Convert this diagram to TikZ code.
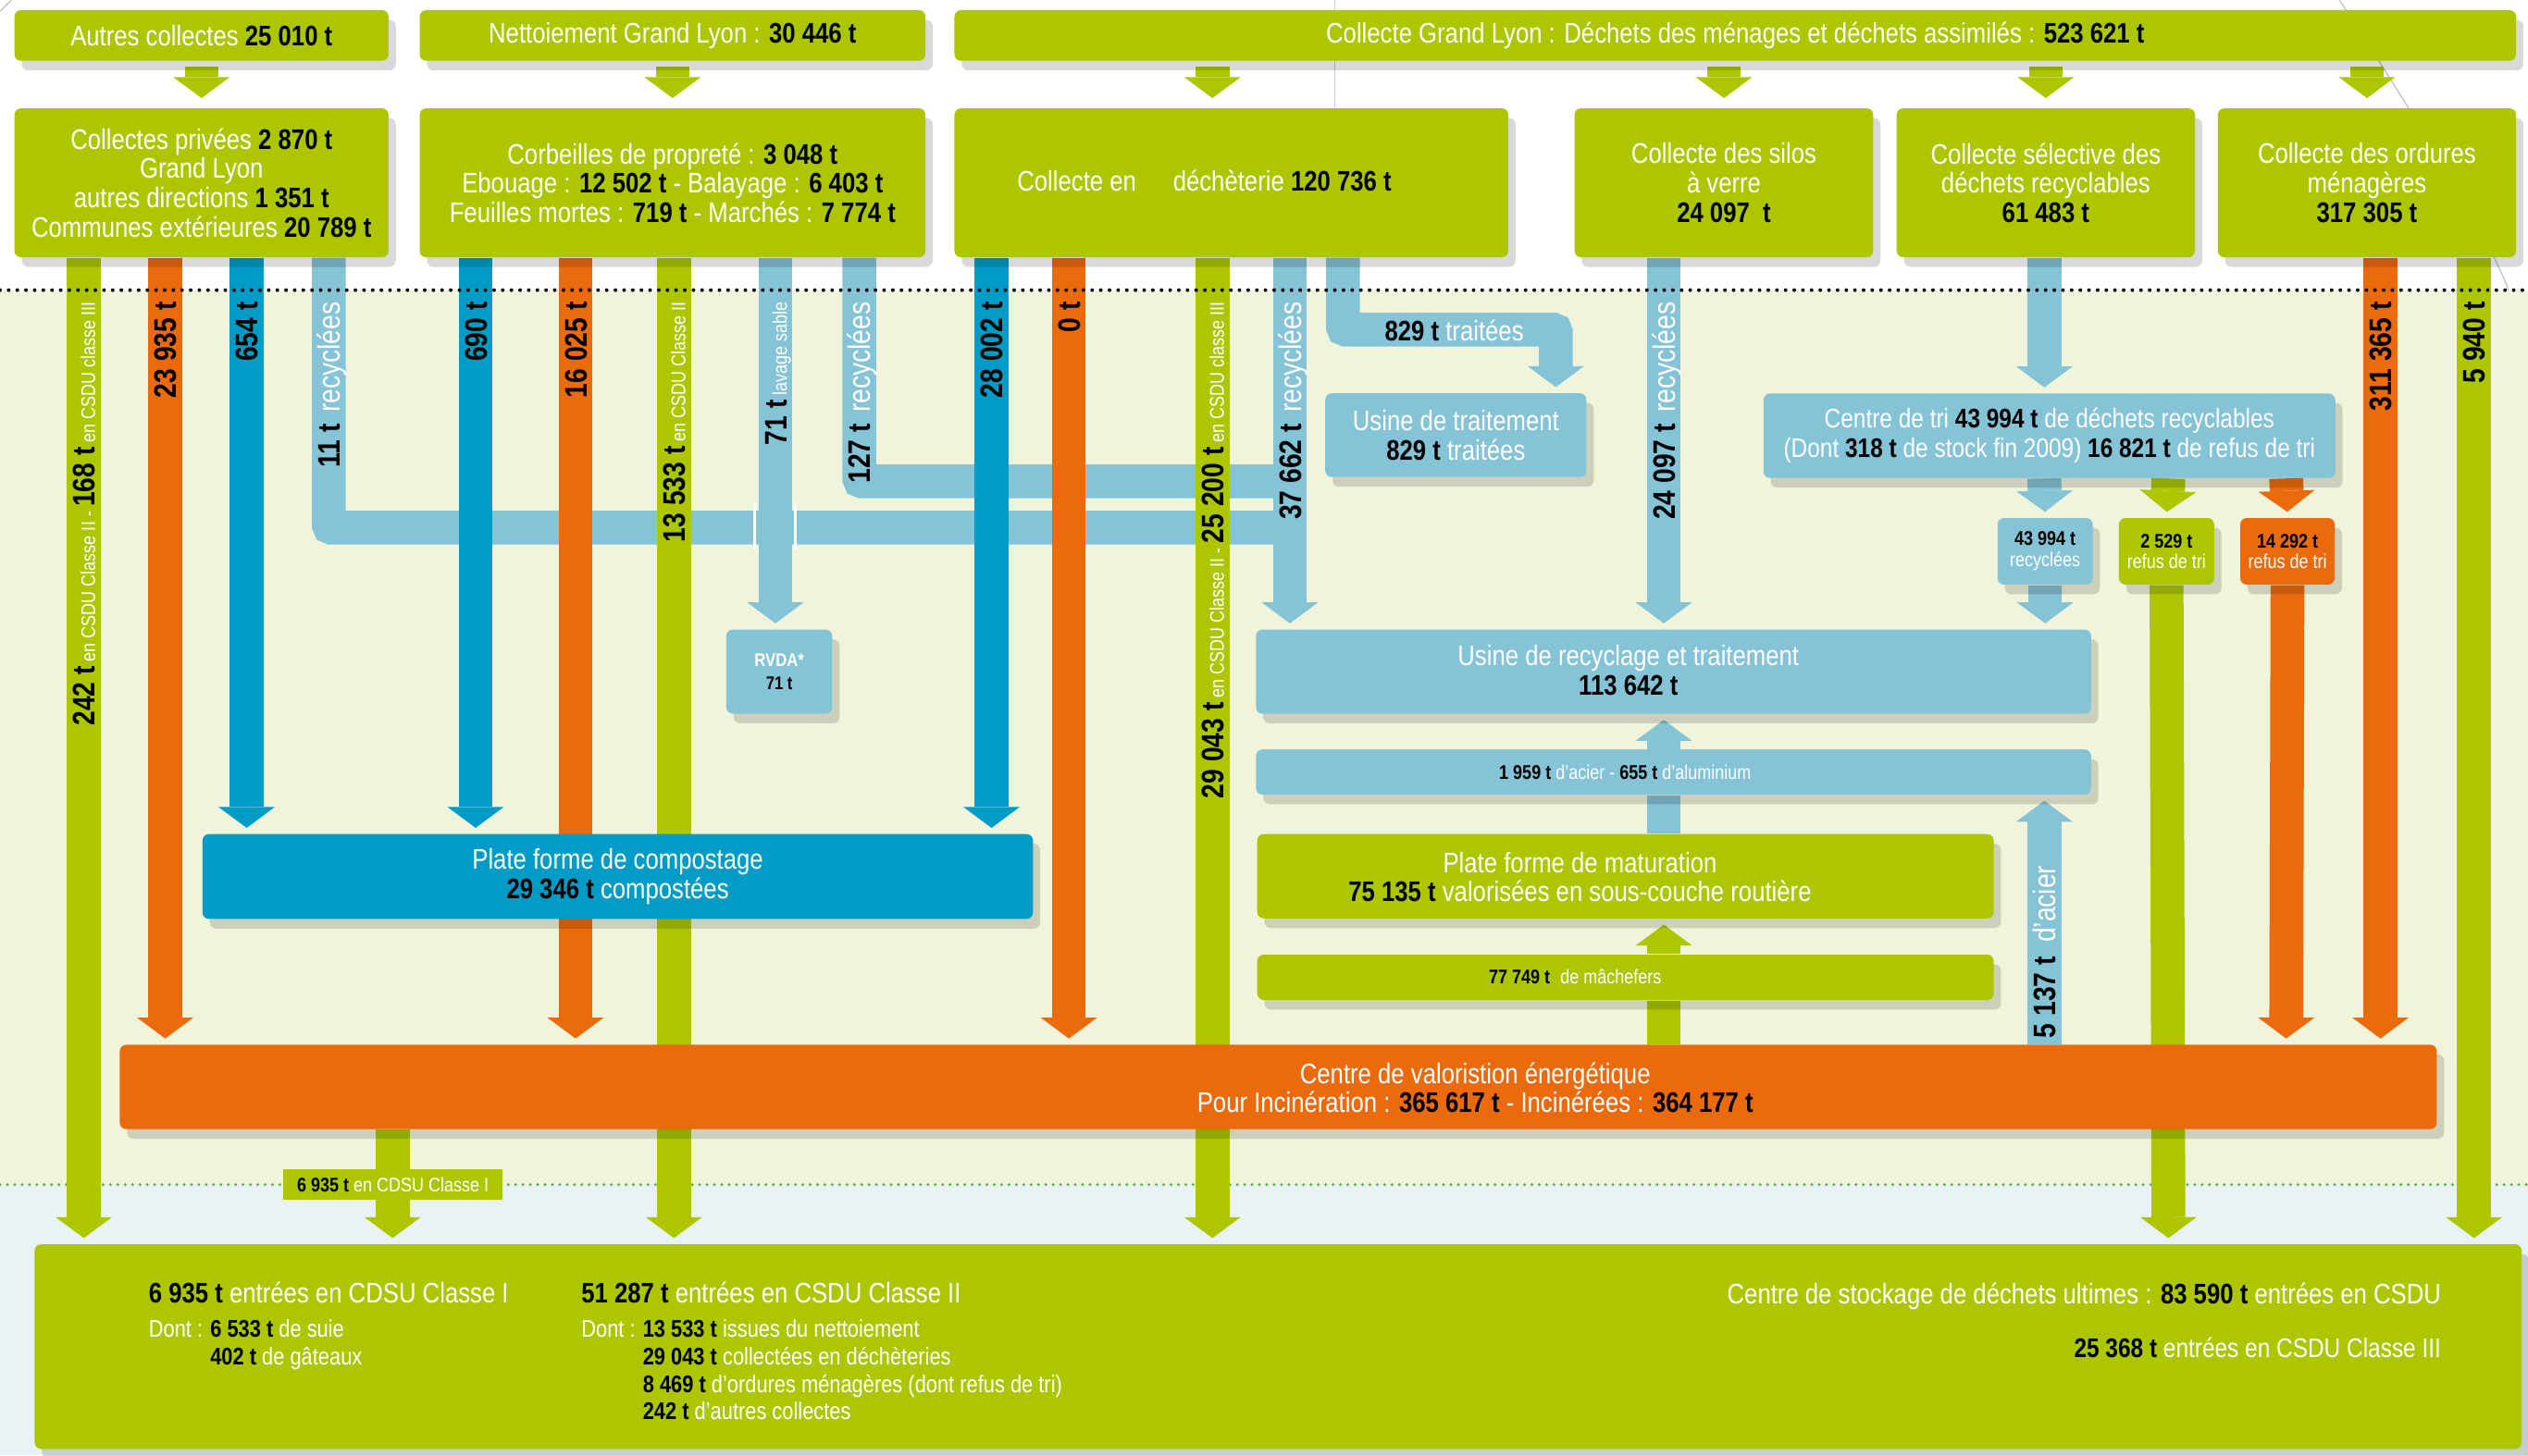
\documentclass[tikz,border=0pt]{standalone}
\usepackage{fontspec}
\setmainfont{Liberation Sans}[FakeStretch=0.84]
\usetikzlibrary{arrows.meta,shadows}

\definecolor{vert}{RGB}{173,198,0}
\definecolor{orangefonce}{RGB}{235,106,13}
\definecolor{bleu}{RGB}{0,156,197}
\definecolor{bleuclair}{RGB}{133,195,214}
\definecolor{creme}{RGB}{240,244,218}
\definecolor{ciel}{RGB}{233,242,244}
\definecolor{pointvert}{RGB}{95,176,80}

\pgfdeclarelayer{fond}
\pgfdeclarelayer{devant}
\pgfsetlayers{fond,main,devant}

\newcommand{\tonnes}[1]{{\bfseries\color{black}#1}}
\newcommand{\vtonnes}[1]{{\fontsize{11}{12}\selectfont\bfseries\color{black}#1}}
\newcommand{\vmot}[1]{{\fontsize{11}{12}\selectfont#1}}

\begin{document}
\begin{tikzpicture}[x=0.02cm, y=-0.02cm,
    taille/.style 2 args={minimum width=#1*0.02cm, minimum height=#2*0.02cm},
    cadre/.style={rounded corners=0.08cm, inner sep=0pt, align=center, text=white,
        font=\fontsize{10}{10.3}\selectfont,
        drop shadow={shadow xshift=0.09cm, shadow yshift=-0.12cm, fill=black, opacity=0.15}},
    cadrevert/.style={cadre, fill=vert},
    cadrebleu/.style={cadre, fill=bleuclair},
    cadrecompost/.style={cadre, fill=bleu},
    cadreorange/.style={cadre, fill=orangefonce},
    petit/.style={font=\fontsize{7}{7.4}\selectfont},
    texte/.style={text=white, align=center, inner sep=0pt, font=\fontsize{10}{10.3}\selectfont},
    barre/.style={line width=0.42cm},
    flux/.style={barre, -{Triangle[width=0.7cm, length=0.26cm, line width=0pt]}, shorten >=0.07cm},
    vlab/.style={rotate=90, anchor=east, inner sep=0pt, text=white, text height=8pt, text depth=0pt,
        font=\fontsize{7}{8}\selectfont},
    bas/.style={text=white, inner sep=0pt, anchor=base west, font=\fontsize{8.5}{9}\selectfont},
    basgrand/.style={bas, font=\fontsize{10}{11}\selectfont}
  ]
  \useasboundingbox (0,0) rectangle (1568,903);

  % Fond
  \begin{pgfonlayer}{fond}
    \fill[white] (0,0) rectangle (1568,180);
    \fill[creme] (0,180) rectangle (1568,735);
    \fill[ciel] (0,735) rectangle (1568,903);
    \draw[black!20, line width=0.4pt] (828,0) -- (828,180);
    \draw[black!25, line width=0.4pt] (1451,0) .. controls (1500,75) and (1540,140) .. (1556,180);
    \draw[black!25, line width=0.4pt] (0,7) -- (7,0);
    \draw[pointvert, line width=1.1pt, line cap=round, dash pattern=on 0pt off 2.6pt] (0,735) -- (1568,735);
  \end{pgfonlayer}

  % Cadres
  \begin{pgfonlayer}{devant}
    \draw[line width=1.3pt, line cap=round, dash pattern=on 0pt off 3.06pt] (0,180) -- (1568,180);

    % Collectes
    \node[cadrevert, taille={232}{31.4}] (autres) at (125,22) {Autres collectes \tonnes{25 010 t}};
    \node[cadrevert, taille={313.7}{31.4}] (nettoiement) at (417.15,22) {Nettoiement Grand Lyon : \tonnes{30 446 t}};
    \node[cadrevert, taille={968.6}{31.4}] (grand) at (1076.3,22) {Collecte Grand Lyon : Déchets des ménages et déchets assimilés : \tonnes{523 621 t}};

    \node[cadrevert, taille={232}{92.4}] (privees) at (125,113.4) {Collectes privées \tonnes{2 870 t}\\Grand Lyon\\autres directions \tonnes{1 351 t}\\Communes extérieures \tonnes{20 789 t}};
    \node[cadrevert, taille={313.7}{92.4}] (corbeilles) at (417.15,113.4) {Corbeilles de propreté : \tonnes{3 048 t}\\Ebouage : \tonnes{12 502 t} - Balayage : \tonnes{6 403 t}\\Feuilles mortes : \tonnes{719 t} - Marchés : \tonnes{7 774 t}};
    \node[cadrevert, taille={343.5}{92.4}] (decheterie) at (763.75,113.4) {};
    \node[texte] (decheterie-t) at (747,112) {Collecte en\hspace{13pt}déchèterie \tonnes{120 736 t}};
    \node[cadrevert, taille={185.3}{92.4}] (silos) at (1069.25,113.4) {Collecte des silos\\à verre\\\tonnes{24 097~~t}};
    \node[cadrevert, taille={185}{92.4}] (selective) at (1268.9,113.4) {Collecte sélective des\\déchets recyclables\\\tonnes{61 483 t}};
    \node[cadrevert, taille={185}{92.4}] (ordures) at (1468.1,113.4) {Collecte des ordures\\ménagères\\\tonnes{317 305 t}};

    % Traitement et tri
    \node[cadrebleu, taille={162}{52}] (traitement) at (903,270) {Usine de traitement\\\tonnes{829 t} traitées};
    \node[cadrebleu, font=\fontsize{9.5}{10.3}\selectfont, taille={354.7}{52.3}] (tri) at (1271.15,270.35) {Centre de tri \tonnes{43 994 t} de déchets recyclables\\(Dont \tonnes{318 t} de stock fin 2009) \tonnes{16 821 t} de refus de tri};
    \node[cadrebleu, petit, taille={59}{41.3}] (rec43) at (1268.5,342.05) {\tonnes{43 994 t}\\recyclées};
    \node[cadrevert, petit, taille={59}{41.3}] (ref2529) at (1343.8,342.05) {\tonnes{2 529 t}\\refus de tri};
    \node[cadreorange, petit, taille={58.6}{41.3}] (ref14292) at (1418.8,342.05) {\tonnes{14 292 t}\\refus de tri};
    \node[cadrebleu, font=\fontsize{6.5}{8}\selectfont, taille={65.7}{52.2}] (rvda) at (483.35,416.7) {\textbf{RVDA*}\\\tonnes{71 t}};

    \node[cadrebleu, taille={518}{52.2}] (recyclage) at (1038,416.7) {};
    \node[texte] (recyclage-t) at (1010,416) {Usine de recyclage et traitement\\\tonnes{113 642 t}};
    \node[cadrebleu, taille={518}{28}] (acier) at (1038,479) {};
    \node[texte, font=\fontsize{7}{8}\selectfont] (acier-t) at (1008,479) {\tonnes{1 959 t} d’acier - \tonnes{655 t} d’aluminium};

    \node[cadrecompost, taille={515.1}{52.6}] (compost) at (383.15,543.8) {Plate forme de compostage\\\tonnes{29 346 t} compostées};
    \node[cadrevert, taille={456.8}{52.3}] (maturation) at (1008.2,543.65) {};
    \node[texte] (maturation-t) at (980,544) {Plate forme de maturation\\\tonnes{75 135 t} valorisées en sous-couche routière};
    \node[cadrevert, taille={456.8}{28.1}] (machefers) at (1008.2,606.35) {};
    \node[texte, font=\fontsize{7}{8}\selectfont] (machefers-t) at (977,606) {\tonnes{77 749 t}\hspace{2pt} de mâchefers};

    % Valorisation energetique
    \node[cadreorange, taille={1437.1}{52.4}] (cve) at (792.85,674.4) {};
    \node[texte] (cve-t) at (915,675) {Centre de valoristion énergétique\\Pour Incinération : \tonnes{365 617 t} - Incinérées : \tonnes{364 177 t}};
    \node[fill=vert, inner sep=0pt, text=white, font=\fontsize{7}{8}\selectfont, taille={135.8}{18.8}] (cdsu1) at (243.7,734.9) {\tonnes{6 935 t} en CDSU Classe I};

    % Stockage
    \node[cadrevert, taille={1542.5}{127}] (stock) at (792.75,835.5) {};
    \node[basgrand] (st1) at (92,808.3) {\tonnes{6 935 t} entrées en CDSU Classe I};
    \node[bas] (st2) at (92,829.9) {Dont : \tonnes{6 533 t} de suie};
    \node[bas] (st3) at (92,847.1) {\phantom{Dont : }\tonnes{402 t} de gâteaux};
    \node[basgrand] (sm1) at (360.3,808.3) {\tonnes{51 287 t} entrées en CSDU Classe II};
    \node[bas] (sm2) at (360.3,829.9) {Dont : \tonnes{13 533 t} issues du nettoiement};
    \node[bas] (sm3) at (360.3,847.1) {\phantom{Dont : }\tonnes{29 043 t} collectées en déchèteries};
    \node[bas] (sm4) at (360.3,864.3) {\phantom{Dont : }\tonnes{8 469 t} d’ordures ménagères (dont refus de tri)};
    \node[bas] (sm5) at (360.3,880.6) {\phantom{Dont : }\tonnes{242 t} d’autres collectes};
    \node[basgrand, anchor=base east] (sr1) at (1514.4,808.9) {Centre de stockage de déchets ultimes : \tonnes{83 590 t} entrées en CSDU};
    \node[basgrand, anchor=base east, font=\fontsize{9.5}{10}\selectfont] (sr2) at (1514.4,842) {\tonnes{25 368 t} entrées en CSDU Classe III};
  \end{pgfonlayer}

  % Colonnes
  \coordinate (p1) at (52,0);    \coordinate (p2) at (102.5,0);
  \coordinate (p3) at (153,0);   \coordinate (p4) at (204,0);
  \coordinate (c1) at (295,0);   \coordinate (c2) at (357,0);
  \coordinate (c3) at (418,0);   \coordinate (c4) at (481,0);
  \coordinate (c5) at (533,0);
  \coordinate (d1) at (615,0);   \coordinate (d2) at (663,0);
  \coordinate (d3) at (752,0);   \coordinate (d4) at (800,0);
  \coordinate (d5) at (833,0);
  \coordinate (s1) at (1032,0);  \coordinate (t1) at (1268,0);
  \coordinate (t2) at (1345,0);  \coordinate (t3) at (1418,0);
  \coordinate (o1) at (1476.5,0); \coordinate (o2) at (1534.5,0);
  \coordinate (e1) at (243.5,0);
  \coordinate (lowpipe) at (800,327.4);
  \coordinate (highpipe) at (800,298.7);
  \coordinate (bend829) at (965,204.5);

  % Collectes vers sous-collectes
  \draw[vert, flux, shorten <=0.06cm, shorten >=0.12cm] (autres.south) -- (privees.north);
  \draw[vert, flux, shorten <=0.06cm, shorten >=0.12cm] (nettoiement.south) -- (corbeilles.north);
  \draw[vert, flux, shorten <=0.06cm, shorten >=0.12cm] (grand.south -| d3) -- (decheterie.north -| d3);
  \draw[vert, flux, shorten <=0.06cm, shorten >=0.12cm] (grand.south -| silos) -- (silos.north);
  \draw[vert, flux, shorten <=0.06cm, shorten >=0.12cm] (grand.south -| selective) -- (selective.north);
  \draw[vert, flux, shorten <=0.06cm, shorten >=0.12cm] (grand.south -| ordures) -- (ordures.north);

  % Recyclage (bleu clair)
  \draw[bleuclair, barre, rounded corners=1pt] (privees.south -| p4) |- (lowpipe);
  \draw[bleuclair, barre, rounded corners=1pt] (corbeilles.south -| c5) |- (highpipe);
  \draw[bleuclair, flux, rounded corners=1pt] (decheterie.south -| d5) |- (bend829) -- (traitement.north -| bend829);
  \draw[bleuclair, flux] (corbeilles.south -| c4) -- (rvda.north -| c4);
  \draw[white, line width=0.03cm] (468,312.8) -- (468,341) (493.4,312.8) -- (493.4,341);
  \draw[bleuclair, flux] (decheterie.south -| d4) -- (recyclage.north -| d4);
  \draw[bleuclair, flux] (silos.south -| s1) -- (recyclage.north -| s1);
  \draw[bleuclair, flux] (selective.south -| t1) -- (tri.north -| t1);
  \draw[bleuclair, flux] (tri.south -| t1) -- (rec43.north);
  \draw[vert, flux] (tri.south -| t2) -- (ref2529.north);
  \draw[orangefonce, flux] (tri.south -| t3) -- (ref14292.north);
  \draw[bleuclair, flux] (rec43.south) -- (recyclage.north -| rec43);
  \draw[bleuclair, barre] (maturation.north -| s1) -- (acier.south -| s1);
  \draw[bleuclair, flux] (acier.north -| s1) -- (recyclage.south -| s1);
  \draw[vert, flux] (machefers.north -| s1) -- (maturation.south -| s1);
  \draw[vert, barre] (cve.north -| s1) -- (machefers.south -| s1);
  \draw[bleuclair, flux] (cve.north -| t1) -- (acier.south -| t1);

  % Compostage
  \draw[bleu, flux] (privees.south -| p3) -- (compost.north -| p3);
  \draw[bleu, flux] (corbeilles.south -| c1) -- (compost.north -| c1);
  \draw[bleu, flux] (decheterie.south -| d1) -- (compost.north -| d1);

  % Incineration
  \draw[orangefonce, flux] (privees.south -| p2) -- (cve.north -| p2);
  \draw[orangefonce, flux] (corbeilles.south -| c2) -- (cve.north -| c2);
  \draw[orangefonce, flux] (decheterie.south -| d2) -- (cve.north -| d2);
  \draw[orangefonce, flux] (ref14292.south) -- (cve.north -| t3);
  \draw[orangefonce, flux] (ordures.south -| o1) -- (cve.north -| o1);

  % Stockage
  \draw[vert, flux] (privees.south -| p1) -- (stock.north -| p1);
  \draw[vert, flux] (corbeilles.south -| c3) -- (stock.north -| c3);
  \draw[vert, flux] (decheterie.south -| d3) -- (stock.north -| d3);
  \draw[vert, flux] (ref2529.south) -- (stock.north -| t2);
  \draw[vert, flux] (ordures.south -| o2) -- (stock.north -| o2);
  \draw[vert, flux] (cve.south -| e1) -- (stock.north -| e1);

  % Etiquettes des flux
  \node[vlab] (lp1) at (52,187) {\vtonnes{242 t} en CSDU Classe II - \vtonnes{168 t} en CSDU classe III};
  \node[vlab] (lp2) at (102.5,187) {\vtonnes{23 935 t}};
  \node[vlab] (lp3) at (153,187) {\vtonnes{654 t}};
  \node[vlab] (lp4) at (204,187) {\vtonnes{11 t}\hspace{4pt}\vmot{recyclées}};
  \node[vlab] (lc1) at (295,187) {\vtonnes{690 t}};
  \node[vlab] (lc2) at (357,187) {\vtonnes{16 025 t}};
  \node[vlab] (lc3) at (418,187) {\vtonnes{13 533 t} en CSDU Classe II};
  \node[vlab] (lc4) at (481,187) {\vtonnes{71 t} lavage sable};
  \node[vlab] (lc5) at (533,187) {\vtonnes{127 t}\hspace{4pt}\vmot{recyclées}};
  \node[vlab] (ld1) at (615,187) {\vtonnes{28 002 t}};
  \node[vlab] (ld2) at (663,187) {\vtonnes{0 t}};
  \node[vlab] (ld3) at (752,187) {\vtonnes{29 043 t} en CSDU Classe II - \vtonnes{25 200 t} en CSDU classe III};
  \node[vlab] (ld4) at (800,187) {\vtonnes{37 662 t}\hspace{4pt}\vmot{recyclées}};
  \node[vlab] (ls1) at (1032,187) {\vtonnes{24 097 t}\hspace{4pt}\vmot{recyclées}};
  \node[vlab] (lo1) at (1476.5,187) {\vtonnes{311 365 t}};
  \node[vlab] (lo2) at (1534.5,187) {\vtonnes{5 940 t}};
  \node[vlab] (lt1) at (1268,536.6) {\vtonnes{5 137 t}\hspace{5pt}\vmot{d’acier}};
  \node[texte] (l829) at (902,205) {\tonnes{829 t} traitées};
\end{tikzpicture}
\end{document}
